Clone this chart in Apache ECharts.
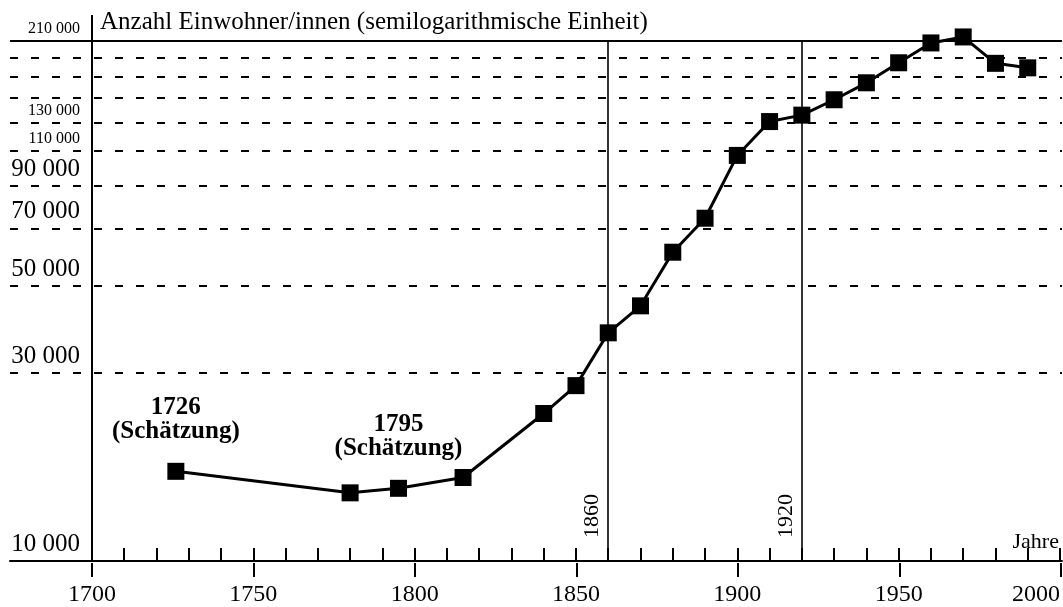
<!DOCTYPE html>
<html><head><meta charset="utf-8">
<script src="https://cdn.jsdelivr.net/npm/echarts@6/dist/echarts.min.js"></script>
<style>html,body{margin:0;padding:0;background:#fff}#c{width:1063px;height:607px}</style>
</head><body><div id="c"></div>
<script>
// ---- data ----
const years = [1726, 1780, 1795, 1815, 1840, 1850, 1860, 1870, 1880, 1890, 1900, 1910, 1920, 1930, 1940, 1950, 1960, 1970, 1980, 1990];
const population = [16900, 14900, 15300, 16300, 23700, 27900, 38000, 44500, 60900, 74300, 107300, 130800, 135800, 148600, 164100, 184500, 207200, 214600, 183900, 179100];
const estimateYears = [1726, 1795];
const estimateNote = '(Schätzung)';
const yTickValues = [10000, 30000, 50000, 70000, 90000, 110000, 130000, 210000];
const yTickLabels = ['10 000', '30 000', '50 000', '70 000', '90 000', '110 000', '130 000', '210 000'];
const dashedValues = [30000, 50000, 70000, 90000, 110000, 130000, 150000, 170000, 190000];
const topValue = 210000;
const xMinorTicks = [1700, 1710, 1720, 1730, 1740, 1750, 1760, 1770, 1780, 1790, 1800, 1810, 1820, 1830, 1840, 1850, 1860, 1870, 1880, 1890, 1900, 1910, 1920, 1930, 1940, 1950, 1960, 1970, 1980, 1990, 2000];
const xMajorTicks = [1700, 1750, 1800, 1850, 1900, 1950, 2000];
const periodMarks = [1860, 1920];
const yAxisTitle = 'Anzahl Einwohner/innen (semilogarithmische Einheit)';
const xAxisTitle = 'Jahre';

// ---- chart ----
const FONT = 'Liberation Serif';
const INK = '#000';
const xMin = 1674.6, xMax = 2000.6, yMin = 10000, yMax = 244000, xOrigin = 1700;

const markData = [];
dashedValues.forEach(v => markData.push({ yAxis: v, lineStyle: { type: [8, 13], width: 2, color: INK } }));
markData.push({ yAxis: topValue, lineStyle: { type: 'solid', width: 2, color: INK } });
markData.push({ xAxis: xOrigin, lineStyle: { type: 'solid', width: 2, color: INK } });
periodMarks.forEach(y => markData.push([
  { coord: [y, yMin], lineStyle: { type: 'solid', width: 1.6, color: INK },
    label: { show: true, formatter: String(y), position: 'insideStartTop', distance: [23, 5],
      fontFamily: FONT, fontSize: 22, color: INK } },
  { coord: [y, topValue] }
]));

const chart = echarts.init(document.getElementById('c'));
chart.setOption({
  animation: false,
  backgroundColor: '#fff',
  title: { text: yAxisTitle, left: 100, top: 10, padding: 0,
    textStyle: { fontFamily: FONT, fontSize: 25, fontWeight: 'normal', color: INK } },
  grid: [
    { left: 10, right: 0, top: 15, bottom: 44 },
    { left: 10, right: 0, top: 15, bottom: 44 }
  ],
  xAxis: [
    { type: 'value', gridIndex: 0, min: xMin, max: xMax,
      name: xAxisTitle, nameLocation: 'end', nameGap: -3,
      nameTextStyle: { align: 'right', verticalAlign: 'bottom', fontFamily: FONT, fontSize: 22, color: INK, padding: [0, 0, 8, 0] },
      axisLine: { show: true, onZero: false, lineStyle: { color: INK, width: 2 } },
      axisTick: { show: true, inside: true, length: 13, customValues: xMinorTicks, lineStyle: { color: INK, width: 2 } },
      axisLabel: { show: true, customValues: xMajorTicks, margin: 22, fontFamily: FONT, fontSize: 24, color: INK,
        alignMaxLabel: 'right', formatter: v => String(v) },
      splitLine: { show: false } },
    { type: 'value', gridIndex: 1, min: xMin, max: xMax,
      axisLine: { show: false },
      axisTick: { show: true, inside: false, length: 14, customValues: xMajorTicks, lineStyle: { color: INK, width: 2 } },
      axisLabel: { show: false }, splitLine: { show: false } }
  ],
  yAxis: [
    { type: 'log', logBase: 10, gridIndex: 0, min: yMin, max: yMax,
      axisLine: { show: false }, axisTick: { show: false }, axisLabel: { show: false }, splitLine: { show: false } },
    { type: 'log', logBase: 10, gridIndex: 1, min: yMin, max: yMax, show: false }
  ],
  series: [
    { type: 'scatter', xAxisIndex: 0, yAxisIndex: 0, silent: true, clip: false, symbolSize: 0,
      data: yTickValues.map(v => ({ value: [xOrigin, v], label: { fontSize: v >= 110000 ? 16 : 25 } })),
      label: { show: true, position: 'left', distance: 12, verticalAlign: 'bottom', offset: [0, -4],
        fontFamily: FONT, color: INK, formatter: p => yTickLabels[p.dataIndex] },
      itemStyle: { opacity: 1 },
      markLine: { silent: true, symbol: 'none', animation: false, label: { show: false }, data: markData },
      z: 2 },
    { type: 'line', xAxisIndex: 0, yAxisIndex: 0, clip: false, z: 5,
      symbol: 'rect', symbolSize: 17, showSymbol: true,
      lineStyle: { color: INK, width: 3 }, itemStyle: { color: INK },
      label: { show: false },
      data: years.map((y, i) => {
        const item = { value: [y, population[i]] };
        if (estimateYears.includes(y)) {
          item.label = { show: true, position: 'top', distance: 19, formatter: y + '\n' + estimateNote,
            fontFamily: FONT, fontWeight: 'bold', fontSize: 25, lineHeight: 24, color: INK, align: 'center' };
        }
        return item;
      }) }
  ]
});
</script>
</body></html>
